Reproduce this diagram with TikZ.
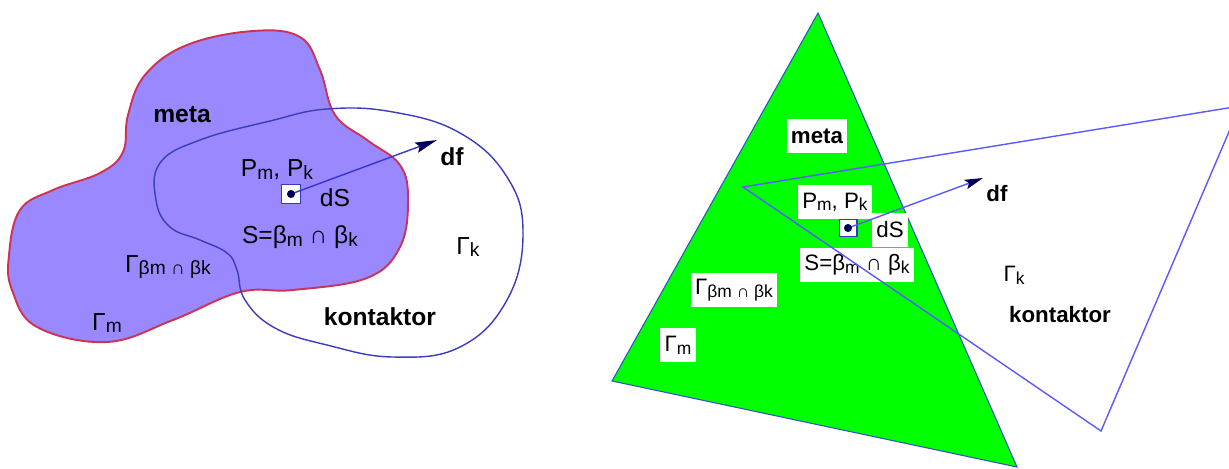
\documentclass[tikz,border=0pt]{standalone}
\usepackage{fontspec}
\setmainfont{Liberation Sans}
\usetikzlibrary{arrows.meta}
\definecolor{metafill}{RGB}{153,136,255}
\definecolor{metaline}{RGB}{204,51,85}
\definecolor{kontline}{RGB}{60,60,190}
\definecolor{arrline}{RGB}{55,55,205}
\definecolor{navy}{RGB}{0,0,90}
\definecolor{trifill}{RGB}{0,255,0}
\definecolor{triline}{RGB}{50,80,200}
\definecolor{quadline}{RGB}{90,90,255}
\newcommand{\idx}[1]{\raisebox{-0.12em}{\scalebox{0.78}{#1}}}

\begin{document}
\begin{tikzpicture}[x=0.02cm, y=-0.02cm, >=Stealth,
    lab/.style={font=\fontsize{14}{16}\selectfont, inner sep=1pt},
    labb/.style={font=\fontsize{14}{16}\selectfont\bfseries, inner sep=1pt},
    rtxt/.style={font=\fontsize{12.7}{15}\selectfont, inner sep=1pt},
    rtxtb/.style={font=\fontsize{12.7}{15}\selectfont\bfseries, inner sep=1pt},
    rbox/.style={rtxt, fill=white, inner xsep=2.5pt, minimum height=18.8pt},
    rboxb/.style={rtxtb, fill=white, inner xsep=2.5pt, minimum height=18.8pt},
    sqbox/.style={draw=arrline, fill=white, line width=0.6pt, minimum size=#1, inner sep=0pt},
    dot/.style={circle, fill=navy, minimum size=4.6pt, inner sep=0pt},
    arrL/.style={draw=arrline, line width=0.8pt, -{Stealth[length=12.5pt, width=6pt, inset=2pt, color=navy]}},
    arrR/.style={draw=quadline, line width=0.8pt, -{Stealth[length=10.5pt, width=5.5pt, inset=2pt, color=navy]}}]
    \useasboundingbox (0,0) rectangle (1229,468);

    % 左图
    \filldraw[fill=metafill, draw=metaline, line width=1.1pt] plot[smooth cycle, tension=0.65] coordinates {
        (9,255) (20,210) (53,190) (100,173) (123,152) (128,115) (145,75) (187,45)
        (253,31) (300,37) (320,70) (335,115) (367,140) (400,165) (408,200) (400,247)
        (367,278) (293,290) (240,292) (173,320) (107,342) (37,327) (12,290)};
    \draw[kontline, line width=0.8pt] plot[smooth cycle, tension=0.7] coordinates {
        (270,121) (327,109) (393,112) (460,133) (507,177) (523,233) (507,300) (460,347)
        (393,357) (327,345) (275,328) (245,300) (237,270) (227,253) (200,240) (170,227)
        (156,200) (160,163) (200,140)};

    \node[labb] (metaL) at (182,115) {meta};
    \node[lab] (pL) at (277,170) {P\idx{m}, P\idx{k}};
    \node[lab] (dsL) at (335,198) {dS};
    \node[lab] (sL) at (300,237) {S=β\idx{m} ∩ β\idx{k}};
    \node[labb] (dfL) at (452,157) {df};
    \node[lab] (gkL) at (468,247) {Γ\idx{k}};
    \node[labb] (kontL) at (380,317) {kontaktor};
    \node[lab] (gbL) at (168,267) {Γ\idx{βm ∩ βk}};
    \node[lab] (gmL) at (107,323) {Γ\idx{m}};

    \node[sqbox=10.8pt] (sqL) at (291,194) {};
    \coordinate (tipL) at (437,140);
    \draw[arrL] (sqL.center) -- (tipL);
    \node[dot] (dotL) at (sqL.center) {};

    % 右图
    \coordinate (tA) at (818,13);
    \coordinate (tB) at (612,381);
    \coordinate (tC) at (1017,467);
    \filldraw[fill=trifill, draw=triline, line width=0.6pt] (tA) -- (tB) -- (tC) -- cycle;

    \node[rboxb] (metaR) at (817,136) {meta};
    \node[rbox] (pR) at (835,202) {P\idx{m}, P\idx{k}};
    \node[rbox] (dsR) at (890,230) {dS};
    \node[rbox] (sR) at (857,265) {S=β\idx{m} ∩ β\idx{k}};
    \node[rbox] (gbR) at (734,290) {Γ\idx{βm ∩ βk}};
    \node[rbox] (gmR) at (678,345) {Γ\idx{m}};
    \node[rtxtb] (dfR) at (997,194) {df};
    \node[rtxt] (gkR) at (1014,275) {Γ\idx{k}};
    \node[rtxtb] (kontR) at (1060,315) {kontaktor};

    \coordinate (qA) at (743,187);
    \coordinate (qB) at (1240,106);
    \coordinate (qC) at (1101,431);
    \draw[quadline, line width=0.8pt] (qA) -- (qB) -- (qC) -- cycle;

    \node[sqbox=10.2pt] (sqR) at (848,228) {};
    \coordinate (tipR) at (983,178);
    \draw[arrR] (sqR.center) -- (tipR);
    \node[dot] (dotR) at (sqR.center) {};
\end{tikzpicture}
\end{document}
